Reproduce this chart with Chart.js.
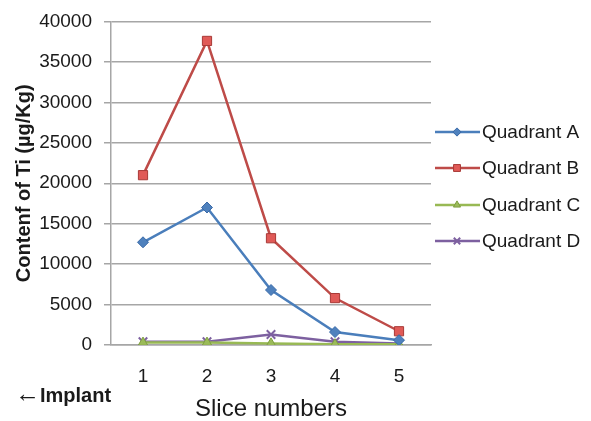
<!DOCTYPE html>
<html>
<head>
<meta charset="utf-8">
<script src="https://cdn.jsdelivr.net/npm/chart.js@4/dist/chart.umd.min.js"></script>
<style>
  html, body { margin: 0; padding: 0; background: #fff; }
  #wrap { width: 591px; height: 421px; }
</style>
</head>
<body>
<div id="wrap"><canvas id="c" width="591" height="421"></canvas></div>
<script>
// Titanium content per slice, by quadrant (µg/Kg)
const slices = ['1', '2', '3', '4', '5'];
const quadrantA = [12700, 17000, 6800, 1600, 600];
const quadrantB = [21000, 37600, 13200, 5800, 1700];
const quadrantC = [300, 300, 200, 100, 100];
const quadrantD = [400, 400, 1300, 400, 200];
const seriesNames = ['Quadrant A', 'Quadrant B', 'Quadrant C', 'Quadrant D'];
const yTitle = 'Contenf of Ti (\u00b5g/Kg)';
const xTitle = 'Slice numbers';

const FONT = '"Liberation Sans", Arial, sans-serif';
const INK = '#1a1a1a';

const styles = [
  { line: '#4A7EBB', fill: '#4F81BD', edge: '#3A6AA8', shape: 'rectRot', r: 5.5 },
  { line: '#BE4B48', fill: '#E05A57', edge: '#A83A37', shape: 'rect', r: 6.5 },
  { line: '#98B954', fill: '#9BBB59', edge: '#7E9E40', shape: 'triangle', r: 5.5 },
  { line: '#7D60A0', fill: '#7D60A0', edge: '#7D60A0', shape: 'crossRot', r: 6 }
];

const values = [quadrantA, quadrantB, quadrantC, quadrantD];

const datasets = values.map((v, i) => ({
  label: seriesNames[i],
  data: v,
  borderColor: styles[i].line,
  borderWidth: 2.5,
  pointStyle: styles[i].shape,
  pointRadius: styles[i].r,
  pointBackgroundColor: styles[i].fill,
  pointBorderColor: styles[i].edge,
  pointBorderWidth: styles[i].shape === 'crossRot' ? 2 : 1,
  tension: 0,
  fill: false
}));

// Legend beside the plot, both axis titles and the implant note
const decorations = {
  id: 'decorations',
  afterDraw(chart) {
    const ctx = chart.ctx;
    const area = chart.chartArea;
    const x0 = 435, rows = [132, 168, 205, 241];
    ctx.save();
    chart.data.datasets.forEach((ds, i) => {
      const y = rows[i];
      ctx.strokeStyle = ds.borderColor;
      ctx.lineWidth = 2.5;
      ctx.beginPath();
      ctx.moveTo(x0, y);
      ctx.lineTo(x0 + 45, y);
      ctx.stroke();
      ctx.fillStyle = ds.pointBackgroundColor;
      ctx.strokeStyle = ds.pointBorderColor;
      ctx.lineWidth = ds.pointBorderWidth;
      Chart.helpers.drawPoint(ctx, {
        pointStyle: ds.pointStyle,
        radius: ds.pointRadius * 0.75,
        borderWidth: ds.pointBorderWidth
      }, x0 + 22, y);
      ctx.fillStyle = INK;
      ctx.font = '19px ' + FONT;
      ctx.textBaseline = 'middle';
      ctx.textAlign = 'left';
      ctx.fillText(ds.label, x0 + 47, y + 1);
    });

    // y-axis title, centred on the plot height
    ctx.save();
    ctx.translate(24, (area.top + area.bottom) / 2);
    ctx.rotate(-Math.PI / 2);
    ctx.fillStyle = INK;
    ctx.font = 'bold 20px ' + FONT;
    ctx.textAlign = 'center';
    ctx.textBaseline = 'middle';
    ctx.fillText(yTitle, 0, 0);
    ctx.restore();

    // x-axis title, centred on the plot width
    ctx.fillStyle = INK;
    ctx.font = '24px ' + FONT;
    ctx.textAlign = 'center';
    ctx.textBaseline = 'middle';
    ctx.fillText(xTitle, (area.left + area.right) / 2, 409);

    // direction note under the axis
    ctx.textAlign = 'left';
    ctx.font = '25px ' + FONT;
    ctx.fillText('\u2190', 15, 395);
    ctx.font = 'bold 20px ' + FONT;
    ctx.fillText('Implant', 40, 396);
    ctx.restore();
  }
};

new Chart(document.getElementById('c'), {
  type: 'line',
  data: { labels: slices, datasets },
  options: {
    responsive: false,
    animation: false,
    layout: { padding: { top: 21, right: 160, left: 0, bottom: 0 } },
    plugins: { legend: { display: false }, tooltip: { enabled: false } },
    scales: {
      x: {
        offset: true,
        grid: { display: false },
        border: { display: true, color: '#a6a6a6', width: 1.5 },
        ticks: { color: INK, font: { family: FONT, size: 19 }, padding: 12 },
        afterFit(scale) { scale.height = 76; }
      },
      y: {
        min: 0,
        max: 40000,
        ticks: {
          stepSize: 5000,
          color: INK,
          font: { family: FONT, size: 19, lineHeight: 1 },
          padding: 12,
          callback: (v) => String(v)
        },
        grid: { color: '#a6a6a6', lineWidth: 1.5, tickLength: 7 },
        border: { display: true, color: '#a6a6a6', width: 1.5 },
        afterFit(scale) { scale.width = 111; }
      }
    }
  },
  plugins: [decorations]
});
</script>
</body>
</html>
